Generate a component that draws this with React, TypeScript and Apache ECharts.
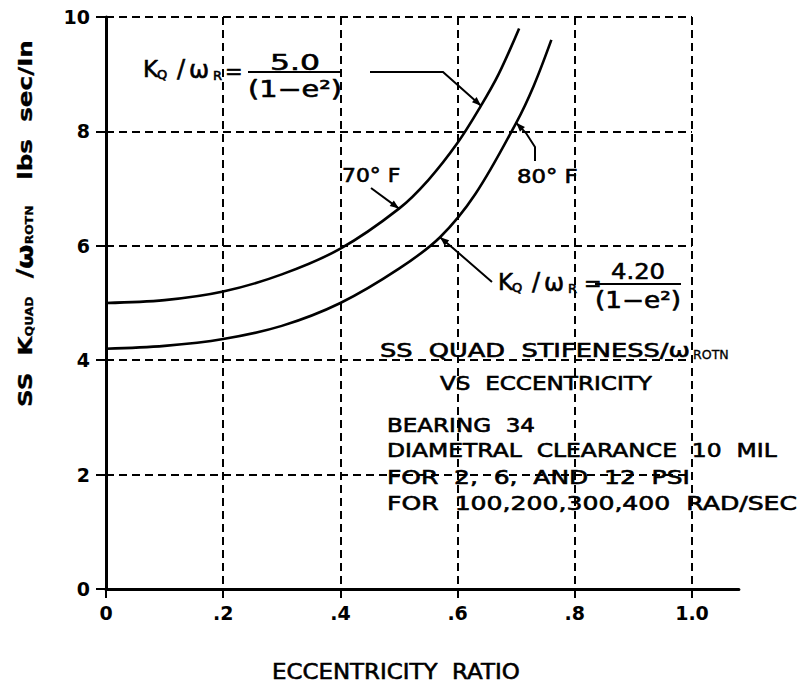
import React, { useEffect, useRef } from "react";
import * as echarts from "echarts";

// SS quad stiffness / rotor speed against eccentricity ratio, bearing 34
const eccentricity70F = [0, 0.1, 0.2, 0.3, 0.4, 0.5, 0.55, 0.6, 0.64, 0.67, 0.705];
const stiffness70F = [5.0, 5.05, 5.2, 5.5, 5.95, 6.65, 7.15, 7.8, 8.45, 9.0, 9.8];
const eccentricity80F = [0, 0.1, 0.2, 0.3, 0.4, 0.5, 0.57, 0.63, 0.7, 0.73, 0.76];
const stiffness80F = [4.2, 4.25, 4.37, 4.6, 5.0, 5.6, 6.15, 6.9, 8.15, 8.8, 9.6];

const xTickValues = [0, 0.2, 0.4, 0.6, 0.8, 1.0];
const xTickLabels = ["0", ".2", ".4", ".6", ".8", "1.0"];
const yTickValues = [0, 2, 4, 6, 8, 10];
const yTickLabels = ["0", "2", "4", "6", "8", "10"];

const curveNames = ["70° F", "80° F"];
const coefficients = ["5.0", "4.20"];
const denominator = "(1−e²)";
const noteTitle = ["SS  QUAD  STIFENESS/ω", "ROTN", "VS  ECCENTRICITY"];
const noteLines = [
  "BEARING  34",
  "DIAMETRAL  CLEARANCE  10  MIL",
  "FOR  2,  6,  AND  12  PSI",
  "FOR  100,200,300,400  RAD/SEC",
];
const xTitle = "ECCENTRICITY  RATIO";

const FONT = '"DejaVu Sans", "Liberation Sans", sans-serif';
const INK = "#000";
const PEN = 0.6; // extra stroke on lettering, for a plotter-pen weight

const measureCtx = document.createElement("canvas").getContext("2d") as CanvasRenderingContext2D;
function measure(text: string, size: number, weight = "normal") {
  measureCtx.font = `${weight} ${size}px ${FONT}`;
  return measureCtx.measureText(text).width;
}

function txt(text: string, x: number, y: number, size: number, extra: any = {}) {
  const { weight = "normal", align = "left", scaleX = 1, pen = PEN } = extra;
  return {
    type: "text",
    x,
    y,
    scaleX,
    style: {
      text,
      fill: INK,
      stroke: pen > 0 ? INK : null,
      lineWidth: pen,
      fontFamily: FONT,
      fontSize: size,
      fontWeight: weight,
      align,
      verticalAlign: "middle",
    },
  };
}

// text stretched horizontally so that it spans [x0, x1]
function fitted(text: string, x0: number, x1: number, y: number, size: number, weight = "normal") {
  const w = measure(text, size, weight);
  return txt(text, x0, y, size, { weight, scaleX: (x1 - x0) / w });
}

function centeredFit(text: string, cx: number, width: number, y: number, size: number) {
  const w = measure(text, size);
  return txt(text, cx, y, size, { align: "center", scaleX: width / w });
}

// a row of text pieces (with subscripts) laid out one after another
function run(pieces: { t: string; size: number; weight?: string; dy?: number }[]) {
  let cx = 0;
  const children = pieces.map((p) => {
    const el = txt(p.t, cx, p.dy || 0, p.size, { weight: p.weight || "normal", pen: 0.3 });
    cx += measure(p.t, p.size, p.weight || "normal");
    return el;
  });
  return { children, width: cx };
}

function leader(points: number[][]) {
  const n = points.length;
  const to = points[n - 1];
  const from = points[n - 2];
  const dx = to[0] - from[0];
  const dy = to[1] - from[1];
  const d = Math.hypot(dx, dy) || 1;
  const ux = dx / d;
  const uy = dy / d;
  const len = 9;
  const half = 3.5;
  const bx = to[0] - ux * len;
  const by = to[1] - uy * len;
  return [
    { type: "polyline", shape: { points }, style: { stroke: INK, lineWidth: 2, fill: null } },
    {
      type: "polygon",
      shape: {
        points: [
          [to[0], to[1]],
          [bx - uy * half, by + ux * half],
          [bx + uy * half, by - ux * half],
        ],
      },
      style: { fill: INK },
    },
  ];
}

// K_Q / ω_R = c / (1 − e²)
function formula(
  kx: number,
  ky: number,
  eqX: number,
  lx0: number,
  lx1: number,
  ly: number,
  coef: string,
  numWidth: number,
  numY: number,
  denY: number
) {
  return [
    txt("K", kx, ky, 23),
    txt("Q", kx + 14, ky + 5, 13),
    txt("/", kx + 34, ky, 24),
    txt("ω", kx + 46, ky + 1, 24),
    txt("R", kx + 70, ky + 6, 13),
    txt("=", eqX, ly, 21),
    { type: "line", shape: { x1: lx0, y1: ly, x2: lx1, y2: ly }, style: { stroke: INK, lineWidth: 2 } },
    centeredFit(coef, (lx0 + lx1) / 2, numWidth, numY, 22),
    centeredFit(denominator, (lx0 + lx1) / 2, lx1 - lx0, denY, 23),
  ];
}

export default function App() {
  const ref = useRef<HTMLDivElement>(null);

  useEffect(() => {
    if (!ref.current) return;
    const chart = echarts.init(ref.current, null, { renderer: "svg" });

    const X0 = 106;
    const X1 = 692;
    const YTOP = 17;
    const YBOT = 589;
    const dash = { type: [8, 5], width: 2, color: INK };

    const tickLabel = (values: number[], labels: string[]) => (v: number) => {
      const i = values.findIndex((t) => Math.abs(t - v) < 1e-6);
      return i >= 0 ? labels[i] : "";
    };

    const curve = (name: string, xs: number[], ys: number[]) => ({
      name,
      type: "line",
      xAxisIndex: 0,
      yAxisIndex: 0,
      data: xs.map((e, i) => [e, ys[i]]),
      smooth: 0.35,
      showSymbol: false,
      clip: false,
      lineStyle: { color: INK, width: 2.6 },
    });

    chart.setOption({
      animation: false,
      backgroundColor: "#fff",
      grid: [
        { left: X0, top: YTOP, width: X1 - X0, height: YBOT - YTOP, outerBoundsMode: "none" },
        { left: X0, top: YTOP, width: (X1 - X0) * 1.08, height: YBOT - YTOP, outerBoundsMode: "none" },
      ],
      xAxis: [
        {
          gridIndex: 0,
          type: "value",
          min: 0,
          max: 1,
          interval: 0.2,
          axisLine: { show: false },
          axisTick: { show: true, length: 9, lineStyle: { color: INK, width: 2 } },
          axisLabel: {
            margin: 14,
            color: INK,
            fontFamily: FONT,
            fontSize: 19,
            fontWeight: "bold",
            formatter: tickLabel(xTickValues, xTickLabels),
          },
          splitLine: { show: true, lineStyle: dash },
        },
        {
          gridIndex: 1,
          type: "value",
          min: 0,
          max: 1.08,
          axisLine: { show: true, lineStyle: { color: INK, width: 3 } },
          axisTick: { show: false },
          axisLabel: { show: false },
          splitLine: { show: false },
        },
      ],
      yAxis: [
        {
          gridIndex: 0,
          type: "value",
          min: 0,
          max: 10,
          interval: 2,
          axisLine: { show: true, lineStyle: { color: INK, width: 3 } },
          axisTick: { show: true, length: 10, lineStyle: { color: INK, width: 2 } },
          axisLabel: {
            margin: 16,
            color: INK,
            fontFamily: FONT,
            fontSize: 19,
            fontWeight: "bold",
            formatter: tickLabel(yTickValues, yTickLabels),
          },
          splitLine: { show: true, lineStyle: dash },
        },
        { gridIndex: 1, type: "value", min: 0, max: 10, show: false },
      ],
      series: [
        curve(curveNames[0], eccentricity70F, stiffness70F),
        curve(curveNames[1], eccentricity80F, stiffness80F),
      ],
    });

    const px = (x: number, y: number) => chart.convertToPixel({ gridIndex: 0 }, [x, y]) as number[];
    const tipTop = px(eccentricity70F[8], stiffness70F[8]);
    const tip70 = px(eccentricity70F[5], stiffness70F[5]);
    const tip80 = px(eccentricity80F[8], stiffness80F[8]);
    const tipLow = px(eccentricity80F[6], stiffness80F[6]);

    // vertical axis title with subscripts, reading bottom to top
    const yTitle = run([
      { t: "SS  K", size: 20, weight: "bold" },
      { t: "QUAD", size: 10, weight: "bold", dy: 5 },
      { t: "  /", size: 21, weight: "bold" },
      { t: "ω", size: 23, weight: "bold" },
      { t: "ROTN", size: 10, weight: "bold", dy: 5 },
      { t: "   lbs  sec/In", size: 20, weight: "bold" },
    ]);

    const graphics: any[] = [
      {
        type: "group",
        x: 25,
        y: 407,
        rotation: Math.PI / 2,
        scaleX: 367 / yTitle.width,
        children: yTitle.children,
      },
      fitted(xTitle, 272, 520, 672, 21),
      ...formula(143, 69, 225, 248, 342, 72, coefficients[0], 50, 62, 89),
      ...leader([[370, 72], [443, 72], tipTop]),
      txt(curveNames[0], 342, 176, 19, { scaleX: 1.15 }),
      ...leader([[371, 188], tip70]),
      txt(curveNames[1], 517, 177, 19, { scaleX: 1.2 }),
      ...leader([[535, 161], [535, 147], [526, 133], tip80]),
      ...formula(498, 282, 584, 595, 681, 284, coefficients[1], 54, 271, 300),
      ...leader([[492, 282], [454, 249], tipLow]),
      fitted(noteTitle[0], 380, 690, 350, 19),
      txt(noteTitle[1], 693, 355, 12, { scaleX: 1.05, pen: 0.3 }),
      fitted(noteTitle[2], 440, 652, 383, 19),
      fitted(noteLines[0], 387, 535, 425, 19),
      fitted(noteLines[1], 387, 777, 450, 19),
      fitted(noteLines[2], 387, 690, 477, 19),
      fitted(noteLines[3], 387, 797, 503, 19),
    ];

    chart.setOption({ graphic: graphics.map((g) => ({ ...g, z: 10 })) });

    return () => chart.dispose();
  }, []);

  return (
    <div
      ref={ref}
      style={{ position: "fixed", left: 0, top: 0, width: 803, height: 690, background: "#fff" }}
    />
  );
}
